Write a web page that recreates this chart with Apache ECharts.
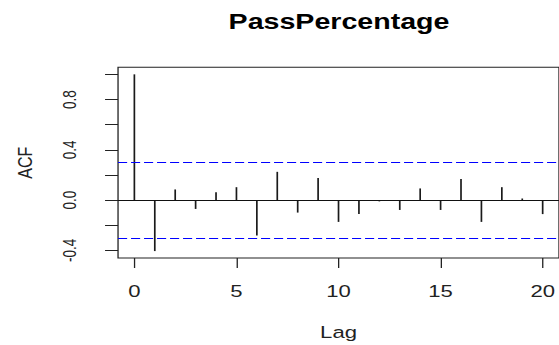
<!DOCTYPE html>
<html>
<head>
<meta charset="utf-8">
<script src="https://cdn.jsdelivr.net/npm/echarts@6/dist/echarts.min.js"></script>
<style>
html,body{margin:0;padding:0;background:#fff;}
#wrap{width:559px;height:345px;overflow:hidden;position:relative;background:#fff;}
#chart{width:430px;height:345px;transform:scaleX(1.3);transform-origin:0 0;}
</style>
</head>
<body>
<div id="wrap"><div id="chart"></div></div>
<script>
// ---- data ----
const title = 'PassPercentage';
const xName = 'Lag';
const yName = 'ACF';
const lags = [0,1,2,3,4,5,6,7,8,9,10,11,12,13,14,15,16,17,18,19,20];
const acf = [1.0,-0.405,0.085,-0.070,0.062,0.103,-0.282,0.225,-0.099,0.175,-0.173,-0.111,-0.010,-0.078,0.093,-0.078,0.168,-0.173,0.103,0.013,-0.111];
const ciUpper = 0.297;
const ciLower = -0.301;
const xTicks = [0,5,10,15,20];
const yTicks = [-0.4,-0.2,0,0.2,0.4,0.6,0.8,1.0];
const yLabels = [-0.4,0,0.4,0.8];

const font = 'Liberation Sans, Arial, sans-serif';
const chart = echarts.init(document.getElementById('chart'), null, {renderer:'svg'});
chart.setOption({
  animation:false,
  backgroundColor:'#fff',
  title:{
    text:title, left:260.8, top:10, textAlign:'center', padding:0,
    textStyle:{fontFamily:font, fontWeight:'bold', fontSize:22, color:'#000'}
  },
  grid:{left:90.8, top:67.3, width:341.9, height:195.4, show:true, borderColor:'#222', borderWidth:1, backgroundColor:'transparent'},
  xAxis:{
    type:'value', min:-0.8, max:20.8,
    name:xName, nameLocation:'middle', nameGap:65,
    nameTextStyle:{fontFamily:font, fontSize:17, color:'#222'},
    axisLine:{show:false, onZero:false},
    axisTick:{show:true, customValues:xTicks, length:10, lineStyle:{color:'#222', width:1}},
    axisLabel:{customValues:xTicks, margin:24, fontFamily:font, fontSize:17, color:'#222'},
    splitLine:{show:false}
  },
  yAxis:{
    type:'value', min:-0.46, max:1.056,
    name:yName, nameLocation:'middle', nameRotate:90, nameGap:64,
    nameTextStyle:{fontFamily:font, fontSize:16, color:'#222'},
    axisLine:{show:false, onZero:false},
    axisTick:{show:true, customValues:yTicks, length:10, lineStyle:{color:'#222', width:1}},
    axisLabel:{customValues:yLabels, rotate:90, margin:30, fontFamily:font, fontSize:13.5, color:'#222',
      formatter:v=>Number(v).toFixed(1)},
    splitLine:{show:false}
  },
  series:[{
    type:'bar',
    barWidth:1.3,
    data:lags.map((l,i)=>[l, acf[i]]),
    itemStyle:{color:'#1a1a1a'},
    markLine:{
      silent:true, symbol:'none', label:{show:false},
      data:[
        {yAxis:0, lineStyle:{color:'#111', type:'solid', width:1}},
        {yAxis:ciUpper, lineStyle:{color:'#0000ff', type:[7,3], width:1}},
        {yAxis:ciLower, lineStyle:{color:'#0000ff', type:[7,3], width:1}}
      ]
    }
  }]
});
</script>
</body>
</html>
